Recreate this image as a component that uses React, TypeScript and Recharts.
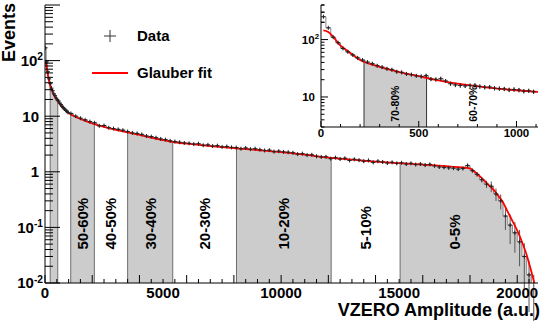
import React from 'react'
import { ComposedChart, Area, Line, Scatter, XAxis, YAxis, ErrorBar, ReferenceLine, Legend } from 'recharts'

const FONT = '"Liberation Sans", Arial, Helvetica, sans-serif'

// main histogram: 50-wide bins from 0 to 1000, then 200-wide bins up to 20800
const headVals = [170, 95, 63, 47, 38.5, 32, 28.8, 25.2, 23.4, 21.2, 19.6, 18.8, 17.1, 16.2, 15.0, 14.3, 13.5, 12.8, 12.3, 11.7]
const headErr = [5, 3, 2, 1.6, 1.3, 1.1, 1, 0.9, 0.85, 0.8, 0.75, 0.7, 0.68, 0.65, 0.62, 0.6, 0.58, 0.55, 0.53, 0.5]
const bodyVals = [
  11.2, 10.0, 9.2, 8.6, 8.0, 7.6, 6.7, 6.8, 6.2, 6.0,
  5.8, 5.6, 5.3, 5.0, 4.9, 4.7, 4.4, 4.3, 4.1, 3.9,
  3.8, 3.6, 3.5, 3.4, 3.3, 3.25, 3.15, 3.2, 3.0, 3.05,
  2.9, 2.95, 2.8, 2.85, 2.75, 2.72, 2.6, 2.68, 2.55, 2.6,
  2.5, 2.42, 2.45, 2.3, 2.35, 2.28, 2.25, 2.2, 2.08, 2.12,
  2.0, 2.02, 1.9, 1.85, 1.86, 1.72, 1.8, 1.7, 1.75, 1.6,
  1.68, 1.62, 1.55, 1.6, 1.48, 1.55, 1.5, 1.44, 1.48, 1.42,
  1.45, 1.38, 1.42, 1.35, 1.38, 1.32, 1.36, 1.28, 1.22, 1.2,
  1.18, 1.16, 1.12, 1.15, 1.3, 1.05, 0.9, 0.72, 0.6, 0.55,
  0.4, 0.3, 0.16, 0.11, 0.08, 0.055, 0.03, 0.014, 0.008,
]
const bodyErr = [
  0.35, 0.32, 0.3, 0.28, 0.27, 0.26, 0.24, 0.24, 0.23, 0.22,
  0.22, 0.21, 0.21, 0.2, 0.2, 0.19, 0.19, 0.18, 0.18, 0.17,
  0.17, 0.16, 0.16, 0.16, 0.15, 0.15, 0.15, 0.15, 0.14, 0.14,
  0.14, 0.14, 0.13, 0.13, 0.13, 0.13, 0.13, 0.13, 0.12, 0.12,
  0.12, 0.12, 0.12, 0.11, 0.11, 0.11, 0.11, 0.11, 0.1, 0.1,
  0.1, 0.1, 0.1, 0.1, 0.1, 0.09, 0.1, 0.09, 0.09, 0.09,
  0.09, 0.09, 0.09, 0.09, 0.08, 0.09, 0.09, 0.08, 0.08, 0.08,
  0.08, 0.08, 0.08, 0.08, 0.08, 0.08, 0.08, 0.08, 0.08, 0.08,
  0.08, 0.08, 0.07, 0.08, 0.09, 0.08, 0.08, 0.08, 0.09, 0.12,
  0.1, 0.09, 0.07, 0.06, 0.045, 0.035, 0.022, 0.011, 0.006,
]

// inset histogram: 25-wide bins, 0 to 1100
const insetVals = [
  250, 160, 110, 88, 70, 61, 54, 48, 44, 40.5,
  38, 35, 33, 31, 29.8, 27.5, 26.8, 25.2, 24.5, 23.4,
  22.8, 23.5, 20.5, 20.2, 20.8, 19.0, 17.0, 16.2, 15.9, 15.6,
  15.8, 16.0, 15.2, 14.8, 14.9, 14.2, 14.0, 13.8, 13.3, 13.5,
  13.2, 12.6, 12.8, 12.3,
]
const insetErr = [
  8, 6, 4.5, 4, 3.5, 3.2, 3, 2.8, 2.6, 2.5,
  2.4, 2.3, 2.2, 2.1, 2, 1.9, 1.9, 1.8, 1.8, 1.7,
  1.7, 1.7, 1.6, 1.6, 1.6, 1.5, 1.4, 1.4, 1.4, 1.3,
  1.3, 1.3, 1.3, 1.3, 1.3, 1.2, 1.2, 1.2, 1.2, 1.2,
  1.2, 1.1, 1.1, 1.1,
]

// Glauber fit
const fitX = [0, 50, 100, 200, 300, 400, 500, 600, 700, 800, 900, 1000, 1500, 2000, 2500, 3000, 3500, 4000, 4500, 5000, 5500, 6000, 6500, 7000, 7500, 8000, 9000, 10000, 11000, 12000, 13000, 14000, 15000, 16000, 17000, 17500, 18000, 18200, 18400, 18600, 18800, 19000, 19200, 19400, 19600, 19800, 20000, 20200, 20400, 20600, 20800]
const fitY = [100, 85, 62, 38, 28.5, 23, 19.8, 17.2, 15.1, 13.6, 12.3, 11.4, 8.9, 7.4, 6.4, 5.7, 5.1, 4.6, 4.1, 3.7, 3.4, 3.2, 3.05, 2.9, 2.78, 2.67, 2.46, 2.25, 2.03, 1.8, 1.65, 1.52, 1.43, 1.35, 1.26, 1.21, 1.15, 1.0, 0.84, 0.7, 0.57, 0.475, 0.37, 0.28, 0.19, 0.13, 0.088, 0.055, 0.032, 0.016, 0.0075]
const insetFitX = [12, 37, 63, 97, 132, 195, 300, 400, 500, 600, 700, 800, 900, 1000, 1110]
const insetFitY = [145, 136, 111, 80, 65, 45, 33.4, 27.2, 23, 19.5, 17.1, 15.4, 14, 13.1, 12.2]

// centrality class boundaries and labels
const centCuts = [220, 540, 1090, 2090, 3500, 5410, 8110, 12120, 15040]
const bandLabels = ['50-60%', '40-50%', '30-40%', '20-30%', '10-20%', '5-10%', '0-5%']
const bandLabelX = [1590, 2795, 4455, 6760, 10115, 13580, 17330]
const insetCuts = [220, 540]
const insetLabels = ['70-80%', '60-70%']
const insetLabelX = [380, 780]

const xTicks = Array.from({ length: 42 }, (_, i) => i * 500)
const insetXTicks = Array.from({ length: 12 }, (_, i) => i * 100)
const mant = [1, 2, 3, 4, 5, 6, 7, 8, 9]
const yTicks = [0.01, 0.1, 1, 10, 100].flatMap((d) => mant.map((m) => m * d)).concat([1000])
const insetYTicks = [3, 4, 5, 6, 7, 8, 9].concat([10, 100].flatMap((d) => mant.map((m) => m * d)), [200, 300, 400])

type Bin = { lo: number; hi: number; v: number; e: number }

const mainBins: Bin[] = [
  ...headVals.map((v, i) => ({ lo: i * 50, hi: (i + 1) * 50, v, e: headErr[i] })),
  ...bodyVals.map((v, i) => ({ lo: 1000 + i * 200, hi: 1200 + i * 200, v, e: bodyErr[i] })),
]
const insetBins: Bin[] = insetVals.map((v, i) => ({ lo: i * 25, hi: (i + 1) * 25, v, e: insetErr[i] }))

const valueAt = (bins: Bin[], x: number) => (bins.find((b) => x >= b.lo && x < b.hi) ?? bins[bins.length - 1]).v

const stepRows = (bins: Bin[], cuts: number[], bands: number[][]) => {
  const xs = Array.from(new Set([...bins.map((b) => b.lo), bins[bins.length - 1].hi, ...cuts])).sort((a, b) => a - b)
  return xs.map((x) => {
    const v = valueAt(bins, x)
    return { x, v, s: bands.some(([a, b]) => x >= a && x <= b) ? v : null }
  })
}

const lastHi = mainBins[mainBins.length - 1].hi
const mainBands = [[centCuts[0], centCuts[1]], [centCuts[2], centCuts[3]], [centCuts[4], centCuts[5]], [centCuts[6], centCuts[7]], [centCuts[8], lastHi]]
const mainSteps = stepRows(mainBins, centCuts, mainBands)
const insetSteps = stepRows(insetBins, insetCuts, [[insetCuts[0], insetCuts[1]]])

const mainPoints = mainBins.map((b) => ({ x: (b.lo + b.hi) / 2, y: b.v, ey: b.e }))
const insetPoints = insetBins.map((b) => ({ x: (b.lo + b.hi) / 2, y: b.v, ey: b.e }))
const mainFit = fitX.map((x, i) => ({ x, f: fitY[i] }))
const insetFit = insetFitX.map((x, i) => ({ x, f: insetFitY[i] }))
const mainLabelRows = bandLabels.map((label, i) => ({ x: bandLabelX[i], y: 0.04, label }))
const insetLabelRows = insetLabels.map((label, i) => ({ x: insetLabelX[i], y: 3.7, label }))

const isDecade = (v: number) => Math.abs(Math.log10(v) - Math.round(Math.log10(v))) < 1e-9

const makeXTick = (opts: { top?: boolean; major: number; long: number; short: number; labelEvery: number; fontSize: number; dy: number }) =>
  (props: any) => {
    const { x, y, payload } = props
    const v = payload.value
    const len = v % opts.major === 0 ? opts.long : opts.short
    const dir = opts.top ? 1 : -1
    return (
      <g>
        <line x1={x} x2={x} y1={y} y2={y + dir * len} stroke="#000" strokeWidth={1} />
        {!opts.top && v % opts.labelEvery === 0 && (
          <text x={x} y={y + opts.dy} textAnchor="middle" fontSize={opts.fontSize} fontWeight="bold" fontFamily={FONT} fill="#000">
            {v}
          </text>
        )}
      </g>
    )
  }

const makeYTick = (opts: { right?: boolean; long: number; short: number; fontSize: number; maxPow: number }) =>
  (props: any) => {
    const { x, y, payload } = props
    const v = payload.value
    const major = isDecade(v)
    const len = major ? opts.long : opts.short
    const dir = opts.right ? -1 : 1
    const p = Math.round(Math.log10(v))
    let label: React.ReactNode = null
    if (!opts.right && major && p <= opts.maxPow) {
      const fs = opts.fontSize
      if (p === 0 || p === 1) {
        label = (
          <text x={x - 6} y={y} dy="0.36em" textAnchor="end" fontSize={fs} fontWeight="bold" fontFamily={FONT} fill="#000">
            {p === 0 ? '1' : '10'}
          </text>
        )
      } else {
        label = (
          <text x={x - 2} y={y} dy="0.36em" textAnchor="end" fontSize={fs} fontWeight="bold" fontFamily={FONT} fill="#000">
            10
            <tspan dy={-fs * 0.37} fontSize={fs * 0.68}>{String(p)}</tspan>
          </text>
        )
      }
    }
    return (
      <g>
        <line x1={x} x2={x + dir * len} y1={y} y2={y} stroke="#000" strokeWidth={1} />
        {label}
      </g>
    )
  }

const Plus = (props: any) => {
  const { cx, cy } = props
  if (cx == null || cy == null) return null
  return <path d={`M${cx - 2},${cy}h4M${cx},${cy - 2}v4`} stroke="#222" strokeWidth={1} fill="none" />
}

const makeBandText = (fontSize: number) => (props: any) => {
  const { cx, cy, payload } = props
  if (cx == null || cy == null) return null
  return (
    <text x={cx} y={cy} dy="0.36em" transform={`rotate(-90 ${cx} ${cy})`} textAnchor="start" fontSize={fontSize} fontWeight="bold" fontFamily={FONT} fill="#000">
      {payload.label}
    </text>
  )
}

const XTitle = (props: any) => {
  const vb = props.viewBox
  return (
    <text x={vb.x + vb.width + 2} y={vb.y + 33} textAnchor="end" fontSize={18} fontWeight="bold" fontFamily={FONT} fill="#000">
      VZERO Amplitude (a.u.)
    </text>
  )
}

const YTitle = (props: any) => {
  const vb = props.viewBox
  const x = vb.x + 15
  const y = vb.y - 2
  return (
    <text x={x} y={y} transform={`rotate(-90 ${x} ${y})`} textAnchor="end" fontSize={18} fontWeight="bold" fontFamily={FONT} fill="#000">
      Events
    </text>
  )
}

const renderLegend = (props: any) => {
  const all = (props.payload || []) as any[]
  const items = [all.find((e) => e.type === 'cross'), all.find((e) => e.type === 'line')].filter(Boolean)
  return (
    <svg width={180} height={74}>
      {items.map((e: any, i: number) => {
        const cy = 18 + i * 37
        return (
          <g key={e.value}>
            {e.type === 'line' ? (
              <line x1={7} x2={43} y1={cy} y2={cy} stroke={e.color} strokeWidth={1.8} />
            ) : (
              <path d={`M19,${cy}h12M25,${cy - 6}v12`} stroke="#333" strokeWidth={1} />
            )}
            <text x={52} y={cy} dy="0.36em" fontSize={15} fontWeight="bold" fontFamily={FONT} fill="#000">
              {e.value}
            </text>
          </g>
        )
      })}
    </svg>
  )
}

const SHADE = '#cccccc'
const EDGE = '#6e6e6e'

export default function App() {
  return (
    <div style={{ position: 'absolute', left: 0, top: 0, width: 545, height: 321, background: '#fff' }}>
      <ComposedChart width={545} height={321} margin={{ top: 5, right: 7, bottom: 0, left: 0 }}>
        <XAxis dataKey="x" type="number" domain={[0, 20880]} ticks={xTicks} interval={0} allowDataOverflow height={38}
          tickSize={0} tickMargin={0} tickLine={false} axisLine={{ stroke: '#000' }}
          tick={makeXTick({ major: 2000, long: 8, short: 4, labelEvery: 5000, fontSize: 15, dy: 15 })} label={XTitle} />
        <XAxis xAxisId="top" orientation="top" dataKey="x" type="number" domain={[0, 20880]} ticks={xTicks} interval={0} allowDataOverflow height={0}
          tickSize={0} tickMargin={0} tickLine={false} axisLine={{ stroke: '#000' }}
          tick={makeXTick({ top: true, major: 2000, long: 8, short: 4, labelEvery: 5000, fontSize: 15, dy: 15 })} />
        <YAxis type="number" scale="log" domain={[0.01, 1000]} ticks={yTicks} interval={0} allowDataOverflow width={45}
          tickSize={0} tickMargin={0} tickLine={false} axisLine={{ stroke: '#000' }}
          tick={makeYTick({ long: 15, short: 8, fontSize: 15, maxPow: 2 })} label={YTitle} />
        <YAxis yAxisId="r" orientation="right" type="number" scale="log" domain={[0.01, 1000]} ticks={yTicks} interval={0} allowDataOverflow width={0}
          tickSize={0} tickMargin={0} tickLine={false} axisLine={{ stroke: '#000' }}
          tick={makeYTick({ right: true, long: 15, short: 8, fontSize: 15, maxPow: 2 })} />

        <Area data={mainSteps} dataKey="s" type="stepAfter" baseValue="dataMin" fill={SHADE} fillOpacity={1} stroke="none"
          connectNulls={false} isAnimationActive={false} legendType="none" />
        <Line data={mainSteps} dataKey="v" type="stepAfter" stroke="#8a8a8a" strokeWidth={1} dot={false} isAnimationActive={false} legendType="none" />
        {centCuts.map((c) => (
          <ReferenceLine key={c} segment={[{ x: c, y: 0.01 }, { x: c, y: valueAt(mainBins, c) }]} stroke={EDGE} strokeWidth={1} />
        ))}
        <Scatter data={mainPoints} dataKey="y" name="Data" fill="#000" legendType="cross" shape={Plus} isAnimationActive={false}>
          <ErrorBar dataKey="ey" direction="y" width={0} stroke="#555" strokeWidth={1} isAnimationActive={false} />
        </Scatter>
        <Line data={mainFit} dataKey="f" name="Glauber fit" type="monotone" stroke="#ff0000" strokeWidth={1.8} dot={false}
          isAnimationActive={false} legendType="line" />
        <Scatter data={mainLabelRows} dataKey="y" shape={makeBandText(15)} legendType="none" isAnimationActive={false} />
        <Legend content={renderLegend} layout="vertical" align="center" verticalAlign="middle"
          wrapperStyle={{ left: 85, top: 18, width: 180, height: 74 }} />
      </ComposedChart>

      <div style={{ position: 'absolute', left: 300, top: 6, width: 245, height: 134, background: '#fff' }} />
      <div style={{ position: 'absolute', left: 300, top: 0 }}>
        <ComposedChart width={245} height={140} margin={{ top: 5, right: 7, bottom: 0, left: 0 }}>
          <XAxis dataKey="x" type="number" domain={[0, 1110]} ticks={insetXTicks} interval={0} allowDataOverflow height={13}
            tickSize={0} tickMargin={0} tickLine={false} axisLine={{ stroke: '#000' }}
            tick={makeXTick({ major: 500, long: 6, short: 3, labelEvery: 500, fontSize: 11.5, dy: 9.5 })} />
          <XAxis xAxisId="top" orientation="top" dataKey="x" type="number" domain={[0, 1110]} ticks={insetXTicks} interval={0} allowDataOverflow height={0}
            tickSize={0} tickMargin={0} tickLine={false} axisLine={{ stroke: '#000' }}
            tick={makeXTick({ top: true, major: 500, long: 6, short: 3, labelEvery: 500, fontSize: 11.5, dy: 9.5 })} />
          <YAxis type="number" scale="log" domain={[3, 400]} ticks={insetYTicks} interval={0} allowDataOverflow width={21}
            tickSize={0} tickMargin={0} tickLine={false} axisLine={{ stroke: '#000' }}
            tick={makeYTick({ long: 7, short: 3.5, fontSize: 11.5, maxPow: 2 })} />
          <YAxis yAxisId="r" orientation="right" type="number" scale="log" domain={[3, 400]} ticks={insetYTicks} interval={0} allowDataOverflow width={0}
            tickSize={0} tickMargin={0} tickLine={false} axisLine={{ stroke: '#000' }}
            tick={makeYTick({ right: true, long: 7, short: 3.5, fontSize: 11.5, maxPow: 2 })} />

          <Area data={insetSteps} dataKey="s" type="stepAfter" baseValue="dataMin" fill={SHADE} fillOpacity={1} stroke="none"
            connectNulls={false} isAnimationActive={false} legendType="none" />
          <Line data={insetSteps} dataKey="v" type="stepAfter" stroke="#8a8a8a" strokeWidth={1} dot={false} isAnimationActive={false} legendType="none" />
          {insetCuts.map((c) => (
            <ReferenceLine key={c} segment={[{ x: c, y: 3 }, { x: c, y: valueAt(insetBins, c) }]} stroke="#333" strokeWidth={1} />
          ))}
          <Scatter data={insetPoints} dataKey="y" fill="#000" shape={Plus} isAnimationActive={false} legendType="none">
            <ErrorBar dataKey="ey" direction="y" width={0} stroke="#555" strokeWidth={1} isAnimationActive={false} />
          </Scatter>
          <Line data={insetFit} dataKey="f" type="monotone" stroke="#ff0000" strokeWidth={1.8} dot={false} isAnimationActive={false} legendType="none" />
          <Scatter data={insetLabelRows} dataKey="y" shape={makeBandText(10.5)} legendType="none" isAnimationActive={false} />
        </ComposedChart>
      </div>
    </div>
  )
}
